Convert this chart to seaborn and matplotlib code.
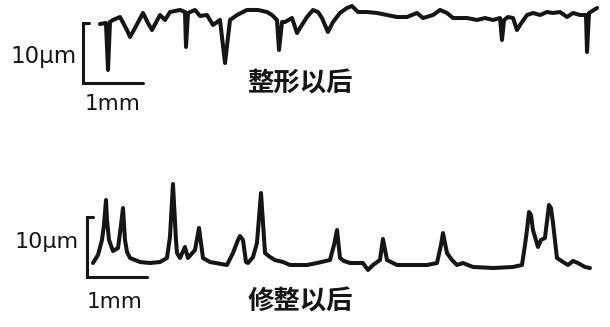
import matplotlib
matplotlib.use("Agg")
import matplotlib.pyplot as plt
import numpy as np
import pandas as pd
import seaborn as sns

# Profile after truing (整形以后): position along surface (mm), height (µm)
truing_x_mm = [0.283, 0.383, 0.417, 0.45, 0.5, 0.617, 0.733, 0.783, 0.867, 1.0,
               1.083, 1.15, 1.283, 1.367, 1.45, 1.617, 1.7, 1.717, 1.75, 1.867,
               1.95, 2.067, 2.167, 2.283, 2.367, 2.45, 2.567, 2.733, 2.917, 3.067,
               3.15, 3.233, 3.267, 3.317, 3.367, 3.483, 3.567, 3.617, 3.733, 3.833,
               3.917, 3.983, 4.083, 4.167, 4.283, 4.4, 4.483, 4.583, 4.733, 4.9,
               5.067, 5.233, 5.4, 5.567, 5.667, 5.833, 5.95, 6.067, 6.167, 6.4,
               6.567, 6.7, 6.833, 6.95, 6.983, 7.017, 7.083, 7.167, 7.233, 7.283,
               7.4, 7.5, 7.617, 7.733, 7.833, 7.95, 8.067, 8.167, 8.283, 8.383,
               8.4, 8.433, 8.567]
truing_h_um = [9.83, 10.0, 2.17, 10.17, 10.5, 11.0, 8.83, 7.67, 9.17, 11.67,
               10.0, 8.83, 11.33, 10.5, 11.83, 12.17, 11.83, 6.0, 11.67, 12.17,
               11.17, 11.33, 9.67, 10.5, 3.33, 10.5, 11.33, 12.17, 12.17, 11.83,
               11.33, 10.5, 5.5, 10.17, 10.17, 10.83, 8.33, 9.17, 11.0, 12.17,
               11.83, 10.83, 8.5, 10.17, 11.67, 12.5, 12.83, 11.83, 11.83, 11.67,
               11.33, 11.0, 11.0, 11.67, 10.83, 11.33, 12.17, 11.67, 10.83, 10.83,
               10.5, 10.83, 10.5, 10.83, 7.17, 10.5, 11.0, 10.83, 8.83, 9.67,
               11.33, 11.67, 11.33, 11.83, 11.67, 11.83, 11.0, 11.67, 11.33, 11.33,
               5.17, 11.67, 12.5]

# Profile after dressing (修整以后)
dressing_x_mm = [0.1, 0.183, 0.25, 0.283, 0.317, 0.333, 0.367, 0.433, 0.517, 0.567,
                 0.6, 0.633, 0.667, 0.717, 0.883, 1.05, 1.217, 1.333, 1.383, 1.433,
                 1.483, 1.5, 1.55, 1.633, 1.683, 1.8, 1.867, 1.933, 2.05, 2.333,
                 2.433, 2.517, 2.55, 2.6, 2.65, 2.683, 2.767, 2.833, 2.9, 2.967,
                 3.05, 3.133, 3.267, 3.383, 3.667, 3.833, 4.05, 4.117, 4.167, 4.217,
                 4.283, 4.383, 4.6, 4.683, 4.767, 4.883, 4.933, 5.0, 5.167, 5.383,
                 5.667, 5.833, 5.9, 5.933, 6.0, 6.083, 6.167, 6.267, 6.433, 6.767,
                 7.1, 7.25, 7.3, 7.333, 7.367, 7.4, 7.433, 7.517, 7.567, 7.633,
                 7.7, 7.733, 7.767, 7.833, 7.933, 8.017, 8.1, 8.183, 8.3, 8.383]
dressing_h_um = [2.33, 3.67, 6.17, 8.67, 12.83, 9.5, 6.17, 4.33, 4.83, 8.67,
                 11.5, 6.17, 4.17, 3.17, 2.5, 2.33, 2.5, 3.17, 6.67, 15.5,
                 6.17, 4.0, 3.17, 5.0, 3.17, 4.5, 8.17, 3.17, 2.5, 2.0,
                 4.0, 6.17, 6.83, 6.17, 2.5, 2.33, 3.33, 5.67, 14.0, 4.0,
                 3.33, 2.83, 2.5, 2.0, 2.0, 2.33, 2.83, 5.33, 7.83, 3.17,
                 2.67, 2.33, 2.33, 1.17, 2.0, 2.83, 6.33, 2.83, 2.0, 2.0,
                 2.0, 2.33, 5.33, 7.33, 4.0, 2.83, 2.0, 2.33, 1.67, 1.5,
                 1.67, 2.0, 5.33, 7.83, 10.83, 10.33, 7.83, 5.0, 6.17, 6.5,
                 12.0, 11.5, 9.0, 3.17, 2.5, 2.0, 2.67, 2.33, 1.67, 1.5]

# Scale bar sizes
bar_height_um = 10
bar_length_mm = 1

panel_titles = ["整形以后", "修整以后"]
bar_height_label = "10μm"
bar_length_label = "1mm"

sns.set_style("white")
plt.rcParams["font.family"] = ["Noto Sans CJK SC", "DejaVu Sans"]

INK = "#151515"

fig = plt.figure(figsize=(6.10, 3.27), dpi=100)
ax_top = fig.add_axes([0, 0.5, 1, 0.5])
ax_bot = fig.add_axes([0, 0.0, 1, 0.5])

df_top = pd.DataFrame({"x": truing_x_mm, "h": truing_h_um})
df_bot = pd.DataFrame({"x": dressing_x_mm, "h": dressing_h_um})

sns.lineplot(data=df_top, x="x", y="h", ax=ax_top, sort=False, estimator=None,
             color=INK, linewidth=2.9, solid_joinstyle="round", solid_capstyle="round")
sns.lineplot(data=df_bot, x="x", y="h", ax=ax_bot, sort=False, estimator=None,
             color=INK, linewidth=2.9, solid_joinstyle="round", solid_capstyle="round")

ax_top.set_xlim(-1.383, 8.783)
ax_top.set_ylim(-13.417, 13.833)
ax_bot.set_xlim(-1.45, 8.717)
ax_bot.set_ylim(-8.333, 18.917)

for ax in (ax_top, ax_bot):
    # L-shaped scale bar: vertical = 10 µm, horizontal = 1 mm
    ax.plot([0.1, 0, 0, bar_length_mm], [bar_height_um, bar_height_um, 0, 0],
            color=INK, linewidth=2.2, solid_joinstyle="miter")
    ax.set_axis_off()
    ax.set_xlabel("")
    ax.set_ylabel("")

W, H = 610, 327


def label(px, py, s, size, **kw):
    fig.text(px / W, 1 - py / H, s, ha="center", va="center", fontsize=size,
             color=INK, **kw)


label(44, 57, bar_height_label, 16.5, family=["DejaVu Sans"])
label(113, 104, bar_length_label, 15.5, family=["DejaVu Sans"])
label(47, 242, bar_height_label, 16, family=["DejaVu Sans"])
label(115, 302, bar_length_label, 15.5, family=["DejaVu Sans"])

label(300, 84, panel_titles[0], 19, fontweight="bold")
label(300, 302, panel_titles[1], 19, fontweight="bold")

fig.savefig("out.png", dpi=100, facecolor="white")
